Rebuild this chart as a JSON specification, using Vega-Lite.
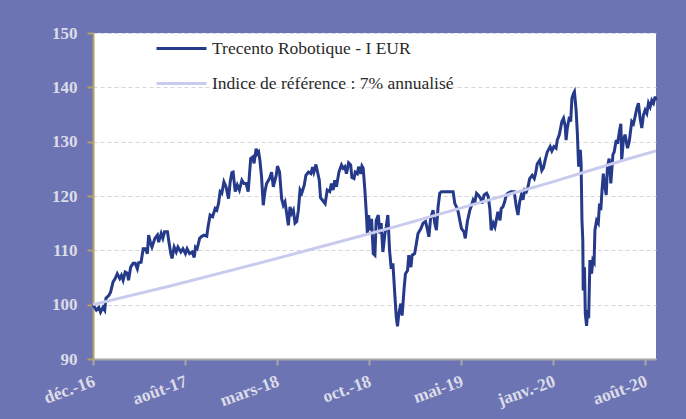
{
  "$schema": "https://vega.github.io/schema/vega-lite/v6.json",
  "width": 563,
  "height": 326,
  "autosize": "none",
  "padding": {"left": 93, "top": 33, "right": 30, "bottom": 60},
  "background": "#6c74b4",
  "config": {
    "view": {"fill": "white", "stroke": null},
    "font": "Liberation Serif"
  },
  "datasets": {
    "fund": [
      {"date":"2016-12-30","value":100.0},{"date":"2017-01-07","value":99.0},{"date":"2017-01-13","value":99.5},{"date":"2017-01-17","value":98.6},{"date":"2017-01-23","value":99.5},{"date":"2017-01-27","value":99.0},{"date":"2017-01-30","value":101.2},{"date":"2017-02-06","value":101.7},{"date":"2017-02-10","value":102.3},{"date":"2017-02-16","value":104.2},{"date":"2017-02-21","value":104.8},{"date":"2017-02-26","value":105.7},{"date":"2017-03-04","value":104.8},{"date":"2017-03-08","value":105.4},{"date":"2017-03-12","value":104.5},{"date":"2017-03-17","value":106.0},{"date":"2017-03-22","value":105.8},{"date":"2017-03-25","value":104.5},{"date":"2017-03-30","value":106.9},{"date":"2017-04-05","value":107.6},{"date":"2017-04-10","value":107.6},{"date":"2017-04-15","value":106.6},{"date":"2017-04-18","value":107.7},{"date":"2017-04-24","value":107.8},{"date":"2017-04-29","value":110.3},{"date":"2017-05-04","value":110.3},{"date":"2017-05-09","value":109.4},{"date":"2017-05-12","value":112.8},{"date":"2017-05-17","value":111.2},{"date":"2017-05-20","value":110.6},{"date":"2017-05-27","value":112.2},{"date":"2017-06-02","value":112.8},{"date":"2017-06-05","value":111.5},{"date":"2017-06-11","value":113.1},{"date":"2017-06-15","value":112.2},{"date":"2017-06-19","value":113.4},{"date":"2017-06-26","value":113.4},{"date":"2017-06-29","value":111.8},{"date":"2017-07-04","value":109.4},{"date":"2017-07-07","value":108.5},{"date":"2017-07-12","value":110.6},{"date":"2017-07-17","value":109.7},{"date":"2017-07-21","value":110.6},{"date":"2017-07-28","value":109.7},{"date":"2017-08-02","value":110.3},{"date":"2017-08-08","value":109.4},{"date":"2017-08-12","value":110.3},{"date":"2017-08-18","value":109.4},{"date":"2017-08-24","value":109.7},{"date":"2017-08-29","value":108.7},{"date":"2017-09-01","value":110.6},{"date":"2017-09-05","value":110.3},{"date":"2017-09-11","value":112.2},{"date":"2017-09-15","value":112.5},{"date":"2017-09-21","value":112.8},{"date":"2017-09-28","value":112.6},{"date":"2017-10-01","value":114.3},{"date":"2017-10-06","value":116.5},{"date":"2017-10-12","value":116.2},{"date":"2017-10-18","value":117.7},{"date":"2017-10-22","value":117.4},{"date":"2017-10-26","value":118.6},{"date":"2017-10-30","value":120.8},{"date":"2017-11-03","value":120.5},{"date":"2017-11-08","value":122.6},{"date":"2017-11-13","value":121.7},{"date":"2017-11-19","value":119.5},{"date":"2017-11-23","value":122.6},{"date":"2017-11-27","value":124.3},{"date":"2017-11-30","value":124.4},{"date":"2017-12-05","value":120.8},{"date":"2017-12-10","value":122.0},{"date":"2017-12-15","value":121.1},{"date":"2017-12-21","value":122.9},{"date":"2017-12-26","value":122.3},{"date":"2017-12-31","value":122.3},{"date":"2018-01-05","value":120.8},{"date":"2018-01-11","value":126.9},{"date":"2018-01-16","value":127.2},{"date":"2018-01-19","value":126.0},{"date":"2018-01-24","value":128.7},{"date":"2018-01-27","value":127.8},{"date":"2018-01-30","value":128.1},{"date":"2018-02-02","value":126.6},{"date":"2018-02-06","value":123.5},{"date":"2018-02-10","value":118.3},{"date":"2018-02-14","value":120.8},{"date":"2018-02-18","value":122.3},{"date":"2018-02-25","value":123.2},{"date":"2018-03-02","value":124.4},{"date":"2018-03-06","value":121.7},{"date":"2018-03-13","value":123.8},{"date":"2018-03-16","value":125.5},{"date":"2018-03-21","value":124.4},{"date":"2018-03-26","value":119.5},{"date":"2018-03-30","value":118.3},{"date":"2018-04-03","value":118.9},{"date":"2018-04-07","value":116.8},{"date":"2018-04-11","value":114.6},{"date":"2018-04-15","value":118.0},{"date":"2018-04-19","value":116.8},{"date":"2018-04-23","value":117.4},{"date":"2018-04-27","value":115.0},{"date":"2018-05-01","value":115.3},{"date":"2018-05-05","value":117.4},{"date":"2018-05-09","value":121.1},{"date":"2018-05-13","value":120.5},{"date":"2018-05-19","value":122.0},{"date":"2018-05-23","value":123.8},{"date":"2018-05-29","value":124.4},{"date":"2018-06-04","value":124.1},{"date":"2018-06-08","value":125.3},{"date":"2018-06-11","value":124.4},{"date":"2018-06-16","value":125.8},{"date":"2018-06-19","value":124.7},{"date":"2018-06-24","value":122.9},{"date":"2018-06-27","value":119.7},{"date":"2018-07-05","value":118.9},{"date":"2018-07-08","value":118.6},{"date":"2018-07-13","value":121.1},{"date":"2018-07-19","value":120.8},{"date":"2018-07-23","value":122.3},{"date":"2018-07-27","value":121.1},{"date":"2018-07-31","value":122.9},{"date":"2018-08-04","value":121.7},{"date":"2018-08-10","value":124.4},{"date":"2018-08-16","value":125.7},{"date":"2018-08-20","value":125.1},{"date":"2018-08-24","value":125.4},{"date":"2018-08-28","value":124.1},{"date":"2018-09-02","value":126.1},{"date":"2018-09-07","value":125.7},{"date":"2018-09-10","value":123.4},{"date":"2018-09-15","value":123.2},{"date":"2018-09-18","value":124.4},{"date":"2018-09-23","value":124.1},{"date":"2018-09-26","value":125.4},{"date":"2018-10-01","value":124.1},{"date":"2018-10-04","value":125.5},{"date":"2018-10-07","value":125.1},{"date":"2018-10-11","value":121.1},{"date":"2018-10-15","value":116.1},{"date":"2018-10-17","value":113.1},{"date":"2018-10-20","value":116.5},{"date":"2018-10-23","value":113.7},{"date":"2018-10-27","value":115.8},{"date":"2018-10-31","value":109.4},{"date":"2018-11-04","value":109.1},{"date":"2018-11-07","value":115.5},{"date":"2018-11-12","value":116.5},{"date":"2018-11-16","value":113.1},{"date":"2018-11-19","value":115.0},{"date":"2018-11-23","value":109.7},{"date":"2018-11-28","value":113.1},{"date":"2018-12-01","value":114.3},{"date":"2018-12-05","value":116.5},{"date":"2018-12-09","value":110.0},{"date":"2018-12-13","value":106.6},{"date":"2018-12-17","value":107.6},{"date":"2018-12-21","value":102.6},{"date":"2018-12-25","value":97.7},{"date":"2018-12-28","value":96.0},{"date":"2018-12-31","value":98.3},{"date":"2019-01-05","value":100.2},{"date":"2019-01-08","value":98.0},{"date":"2019-01-13","value":103.2},{"date":"2019-01-16","value":105.7},{"date":"2019-01-21","value":106.3},{"date":"2019-01-24","value":109.1},{"date":"2019-01-29","value":106.9},{"date":"2019-02-01","value":109.1},{"date":"2019-02-07","value":109.4},{"date":"2019-02-11","value":111.2},{"date":"2019-02-15","value":113.1},{"date":"2019-02-22","value":114.0},{"date":"2019-02-27","value":115.0},{"date":"2019-03-05","value":115.3},{"date":"2019-03-09","value":114.0},{"date":"2019-03-13","value":112.5},{"date":"2019-03-17","value":115.8},{"date":"2019-03-23","value":117.4},{"date":"2019-03-27","value":115.0},{"date":"2019-03-31","value":113.7},{"date":"2019-04-04","value":118.0},{"date":"2019-04-08","value":120.5},{"date":"2019-04-12","value":120.8},{"date":"2019-04-24","value":120.8},{"date":"2019-05-10","value":120.8},{"date":"2019-05-14","value":118.6},{"date":"2019-05-18","value":118.0},{"date":"2019-05-22","value":117.1},{"date":"2019-05-26","value":115.5},{"date":"2019-05-30","value":114.0},{"date":"2019-06-05","value":113.4},{"date":"2019-06-08","value":112.2},{"date":"2019-06-13","value":115.3},{"date":"2019-06-19","value":117.4},{"date":"2019-06-23","value":118.3},{"date":"2019-06-27","value":119.3},{"date":"2019-07-01","value":118.9},{"date":"2019-07-05","value":120.5},{"date":"2019-07-09","value":120.2},{"date":"2019-07-15","value":119.5},{"date":"2019-07-18","value":118.6},{"date":"2019-07-23","value":120.2},{"date":"2019-07-29","value":120.5},{"date":"2019-08-02","value":119.9},{"date":"2019-08-06","value":117.4},{"date":"2019-08-09","value":113.7},{"date":"2019-08-14","value":115.0},{"date":"2019-08-18","value":114.3},{"date":"2019-08-21","value":115.5},{"date":"2019-08-25","value":117.1},{"date":"2019-08-30","value":115.5},{"date":"2019-09-02","value":117.7},{"date":"2019-09-06","value":118.0},{"date":"2019-09-10","value":118.9},{"date":"2019-09-14","value":120.2},{"date":"2019-09-18","value":120.5},{"date":"2019-09-25","value":120.8},{"date":"2019-10-03","value":120.8},{"date":"2019-10-08","value":118.0},{"date":"2019-10-12","value":116.5},{"date":"2019-10-16","value":118.9},{"date":"2019-10-20","value":120.2},{"date":"2019-10-24","value":119.3},{"date":"2019-10-28","value":121.1},{"date":"2019-11-01","value":120.8},{"date":"2019-11-05","value":121.7},{"date":"2019-11-09","value":123.2},{"date":"2019-11-15","value":123.8},{"date":"2019-11-20","value":123.2},{"date":"2019-11-23","value":124.1},{"date":"2019-11-27","value":125.9},{"date":"2019-12-03","value":126.6},{"date":"2019-12-08","value":124.7},{"date":"2019-12-12","value":125.2},{"date":"2019-12-16","value":126.6},{"date":"2019-12-21","value":128.1},{"date":"2019-12-28","value":129.1},{"date":"2020-01-01","value":128.3},{"date":"2020-01-06","value":129.1},{"date":"2020-01-11","value":128.8},{"date":"2020-01-14","value":130.3},{"date":"2020-01-19","value":131.3},{"date":"2020-01-22","value":132.5},{"date":"2020-01-25","value":133.7},{"date":"2020-01-29","value":134.3},{"date":"2020-02-02","value":132.8},{"date":"2020-02-04","value":130.3},{"date":"2020-02-07","value":132.5},{"date":"2020-02-12","value":134.6},{"date":"2020-02-15","value":133.7},{"date":"2020-02-18","value":138.0},{"date":"2020-02-22","value":138.9},{"date":"2020-02-24","value":139.2},{"date":"2020-02-28","value":135.8},{"date":"2020-03-02","value":131.5},{"date":"2020-03-05","value":125.4},{"date":"2020-03-09","value":128.5},{"date":"2020-03-11","value":126.0},{"date":"2020-03-13","value":115.5},{"date":"2020-03-15","value":111.8},{"date":"2020-03-16","value":102.6},{"date":"2020-03-19","value":106.9},{"date":"2020-03-21","value":98.3},{"date":"2020-03-24","value":96.1},{"date":"2020-03-27","value":99.0},{"date":"2020-03-29","value":97.5},{"date":"2020-04-01","value":108.2},{"date":"2020-04-05","value":105.7},{"date":"2020-04-08","value":108.2},{"date":"2020-04-11","value":107.8},{"date":"2020-04-13","value":113.7},{"date":"2020-04-17","value":115.5},{"date":"2020-04-21","value":115.0},{"date":"2020-04-24","value":118.6},{"date":"2020-04-27","value":117.4},{"date":"2020-04-30","value":121.1},{"date":"2020-05-03","value":124.1},{"date":"2020-05-07","value":121.7},{"date":"2020-05-10","value":120.2},{"date":"2020-05-13","value":125.4},{"date":"2020-05-17","value":126.9},{"date":"2020-05-21","value":122.3},{"date":"2020-05-26","value":127.6},{"date":"2020-05-29","value":128.1},{"date":"2020-06-03","value":130.3},{"date":"2020-06-06","value":129.6},{"date":"2020-06-11","value":132.1},{"date":"2020-06-14","value":133.3},{"date":"2020-06-16","value":126.6},{"date":"2020-06-20","value":130.3},{"date":"2020-06-24","value":131.3},{"date":"2020-06-30","value":128.8},{"date":"2020-07-04","value":130.0},{"date":"2020-07-10","value":133.7},{"date":"2020-07-14","value":133.3},{"date":"2020-07-18","value":134.6},{"date":"2020-07-22","value":136.1},{"date":"2020-07-26","value":137.1},{"date":"2020-07-30","value":134.3},{"date":"2020-08-03","value":132.5},{"date":"2020-08-07","value":134.9},{"date":"2020-08-11","value":135.8},{"date":"2020-08-15","value":135.2},{"date":"2020-08-19","value":137.1},{"date":"2020-08-23","value":136.4},{"date":"2020-08-27","value":137.6},{"date":"2020-08-31","value":137.1},{"date":"2020-09-04","value":138.3},{"date":"2020-09-06","value":137.6}
    ],
    "index": [
      {"date":"2016-12-30","value":100.0},{"date":"2017-06-30","value":103.4},{"date":"2017-12-30","value":107.0},{"date":"2018-06-30","value":110.7},{"date":"2018-12-30","value":114.5},{"date":"2019-06-30","value":118.5},{"date":"2019-12-30","value":122.5},{"date":"2020-06-30","value":126.8},{"date":"2020-09-06","value":128.3}
    ]
  },
  "encoding": {
    "x": {
      "field": "date",
      "type": "temporal",
      "scale": {"type": "utc", "domain": [{"year":2016,"month":12,"date":30,"utc":true},{"year":2020,"month":9,"date":6,"utc":true}]},
      "axis": {
        "title": null,
        "values": [
          {"year":2016,"month":12,"date":30,"utc":true},
          {"year":2017,"month":8,"date":7,"utc":true},
          {"year":2018,"month":3,"date":15,"utc":true},
          {"year":2018,"month":10,"date":21,"utc":true},
          {"year":2019,"month":5,"date":29,"utc":true},
          {"year":2020,"month":1,"date":4,"utc":true},
          {"year":2020,"month":8,"date":11,"utc":true}
        ],
        "labelExpr": "['janv.','févr.','mars','avr.','mai','juin','juil.','août','sept.','oct.','nov.','déc.'][utcmonth(datum.value)] + '-' + utcFormat(datum.value, '%y')",
        "labelAngle": -20,
        "labelAlign": "right",
        "labelBaseline": "top",
        "labelPadding": 7,
        "labelOffset": -2,
        "labelFont": "Liberation Serif",
        "labelFontWeight": "bold",
        "labelFontSize": 17.5,
        "labelColor": "#dcdce8",
        "labelOverlap": false,
        "labelFlush": false,
        "domainColor": "#a8a8a8",
        "domainWidth": 2,
        "tickColor": "#a8a8a8",
        "tickWidth": 2,
        "tickSize": 6,
        "grid": false
      }
    },
    "y": {
      "field": "value",
      "type": "quantitative",
      "scale": {"domain": [90, 150], "nice": false, "zero": false},
      "axis": {
        "title": null,
        "values": [90, 100, 110, 120, 130, 140, 150],
        "labelFont": "Liberation Serif",
        "labelFontWeight": "bold",
        "labelFontSize": 17,
        "labelColor": "#dcdce8",
        "labelPadding": 10,
        "domainColor": "#b3a06d",
        "domainWidth": 2,
        "tickColor": "#b3a06d",
        "tickWidth": 2,
        "tickSize": 6,
        "grid": true,
        "gridColor": "#d6d6d6",
        "gridDash": [4, 3],
        "gridWidth": 1
      }
    }
  },
  "layer": [
    {
      "data": {"name": "fund"},
      "mark": {"type": "line", "strokeWidth": 3, "interpolate": "linear"},
      "encoding": {
        "color": {
          "datum": "Trecento Robotique - I EUR",
          "type": "nominal",
          "scale": {"domain": ["Trecento Robotique - I EUR", "Indice de référence : 7% annualisé"], "range": ["#253a8a", "#c8cbee"]},
          "legend": {
            "title": null,
            "orient": "none",
            "legendX": 62,
            "legendY": -11,
            "symbolType": "stroke",
            "symbolSize": 2500,
            "symbolStrokeWidth": 3,
            "labelFont": "Liberation Serif",
            "labelFontSize": 17.5,
            "labelColor": "#2a2a2a",
            "labelLimit": 400,
            "rowPadding": -3
          }
        }
      }
    },
    {
      "data": {"name": "index"},
      "mark": {"type": "line", "strokeWidth": 3},
      "encoding": {
        "color": {"datum": "Indice de référence : 7% annualisé", "type": "nominal"}
      }
    }
  ]
}
